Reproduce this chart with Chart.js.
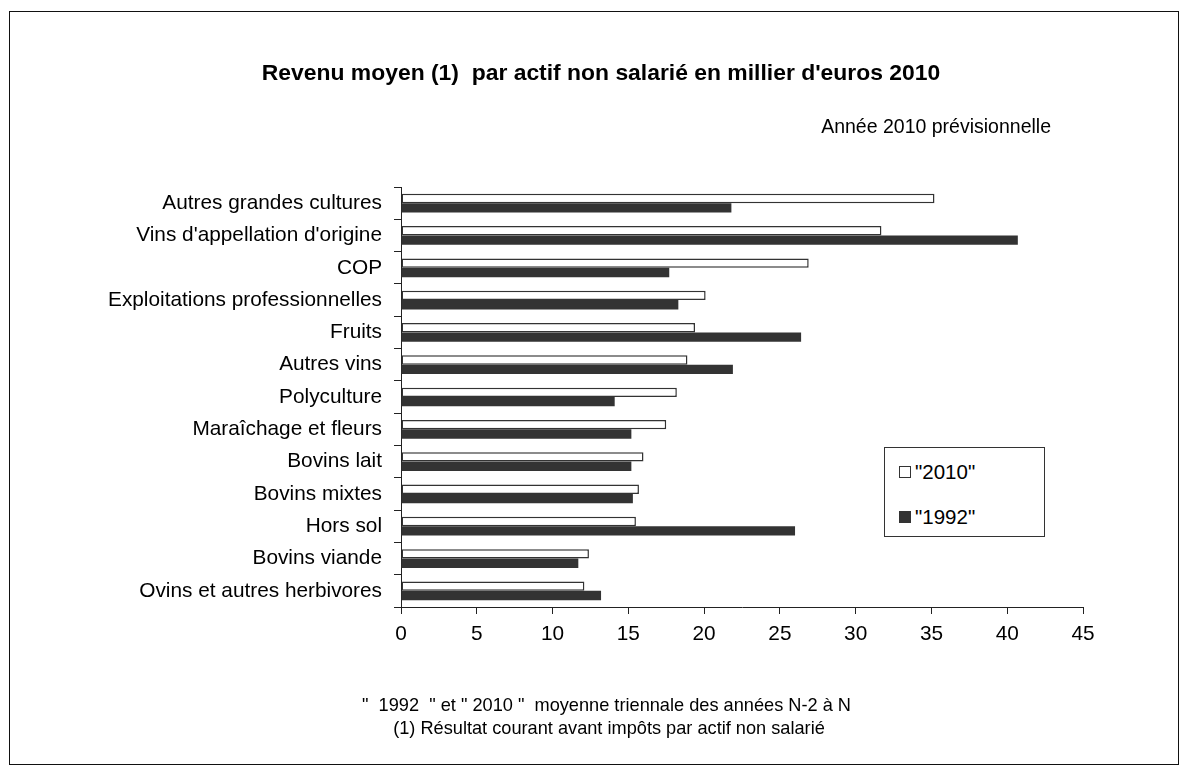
<!DOCTYPE html>
<html lang="fr">
<head>
<meta charset="utf-8">
<title>Revenu moyen par actif non salarié</title>
<script src="https://cdn.jsdelivr.net/npm/chart.js@4/dist/chart.umd.min.js"></script>
<style>
  html, body { margin: 0; padding: 0; background: #fff; }
  body { width: 1189px; height: 776px; position: relative; overflow: hidden;
         font-family: "Liberation Sans", Arial, sans-serif; color: #000; }
  #frame { position: absolute; left: 9px; top: 11px; width: 1170px; height: 754px;
           border: 1px solid #111; box-sizing: border-box; }
  canvas { position: absolute; left: 0; top: 0; }
  .txt { position: absolute; white-space: pre; line-height: 1; }
  #title { left: 0; width: 1202px; text-align: center; top: 61px; font-weight: bold; font-size: 22.9px; }
  #sub { right: 138px; top: 117px; font-size: 19.5px; }
  #note1 { left: 0; width: 1213px; text-align: center; top: 696px; font-size: 18.2px; }
  #note2 { left: 0; width: 1218px; text-align: center; top: 719px; font-size: 18.2px; }
  #legend { position: absolute; left: 884px; top: 447px; width: 161px; height: 90px;
            border: 1px solid #333; box-sizing: border-box; background: #fff; }
  .item { position: absolute; left: 14px; font-size: 20.5px; line-height: 1; white-space: pre; }
  .sw { display: inline-block; width: 12px; height: 12px; box-sizing: border-box; margin-right: 4px; vertical-align: 1px; }
</style>
</head>
<body>
<div id="frame"></div>
<canvas id="c" width="1189" height="776"></canvas>
<div class="txt" id="title">Revenu moyen (1)  par actif non salarié en millier d'euros 2010</div>
<div class="txt" id="sub">Année 2010 prévisionnelle</div>
<div class="txt" id="note1">"  1992  " et " 2010 "  moyenne triennale des années N-2 à N</div>
<div class="txt" id="note2">(1) Résultat courant avant impôts par actif non salarié</div>
<div id="legend"></div>
<script>
// Orientations technico-économiques, du haut vers le bas
const categories = [
  "Autres grandes cultures",
  "Vins d'appellation d'origine",
  "COP",
  "Exploitations professionnelles",
  "Fruits",
  "Autres vins",
  "Polyculture",
  "Maraîchage et fleurs",
  "Bovins lait",
  "Bovins mixtes",
  "Hors sol",
  "Bovins viande",
  "Ovins et autres herbivores"
];

// Revenu moyen, milliers d'euros 2010
const values2010 = [35.2, 31.7, 26.9, 20.1, 19.4, 18.9, 18.2, 17.5, 16.0, 15.7, 15.5, 12.4, 12.1];
const values1992 = [21.8, 40.7, 17.7, 18.3, 26.4, 21.9, 14.1, 15.2, 15.2, 15.3, 26.0, 11.7, 13.2];

const seriesNames = ['"2010"', '"1992"'];
const xTicks = [0, 5, 10, 15, 20, 25, 30, 35, 40, 45];

const ink = '#333333';
const tickFont = { family: '"Liberation Sans", Arial, sans-serif', size: 20.8 };

const chart = new Chart(document.getElementById('c'), {
  type: 'bar',
  data: {
    labels: categories,
    datasets: [
      { label: seriesNames[0], data: values2010, backgroundColor: '#ffffff',
        borderColor: ink, borderWidth: 1.5, borderSkipped: false },
      { label: seriesNames[1], data: values1992, backgroundColor: ink,
        borderColor: ink, borderWidth: 0 }
    ]
  },
  options: {
    indexAxis: 'y',
    responsive: false,
    animation: false,
    devicePixelRatio: 1,
    categoryPercentage: 0.58,
    barPercentage: 1.0,
    layout: { padding: { left: 0, top: 187, right: 106, bottom: 119 } },
    plugins: { legend: { display: false }, tooltip: { enabled: false } },
    scales: {
      x: {
        min: xTicks[0], max: xTicks[xTicks.length - 1],
        afterBuildTicks: (s) => { s.ticks = xTicks.map(v => ({ value: v })); },
        afterFit: (s) => { s.height = 50; },
        grid: { drawOnChartArea: false, drawTicks: true, tickLength: 7, color: '#222', lineWidth: 1 },
        border: { display: true, color: '#222', width: 1 },
        ticks: { color: '#000', font: tickFont, padding: 8, maxRotation: 0 }
      },
      y: {
        afterFit: (s) => { s.width = 401; },
        grid: { offset: true, drawOnChartArea: false, drawTicks: true, tickLength: 7, color: '#222', lineWidth: 1 },
        border: { display: true, color: '#222', width: 1 },
        ticks: { color: '#000', font: tickFont, padding: 12, autoSkip: false }
      }
    }
  }
});

// Légende encadrée dans la zone du graphique
const legend = document.getElementById('legend');
chart.data.datasets.forEach((ds, i) => {
  const row = document.createElement('div');
  row.className = 'item';
  row.style.top = (i === 0 ? 14 : 59) + 'px';
  const sw = document.createElement('span');
  sw.className = 'sw';
  sw.style.background = ds.backgroundColor;
  sw.style.border = '1.5px solid ' + ink;
  row.appendChild(sw);
  row.appendChild(document.createTextNode(ds.label));
  legend.appendChild(row);
});
</script>
</body>
</html>
